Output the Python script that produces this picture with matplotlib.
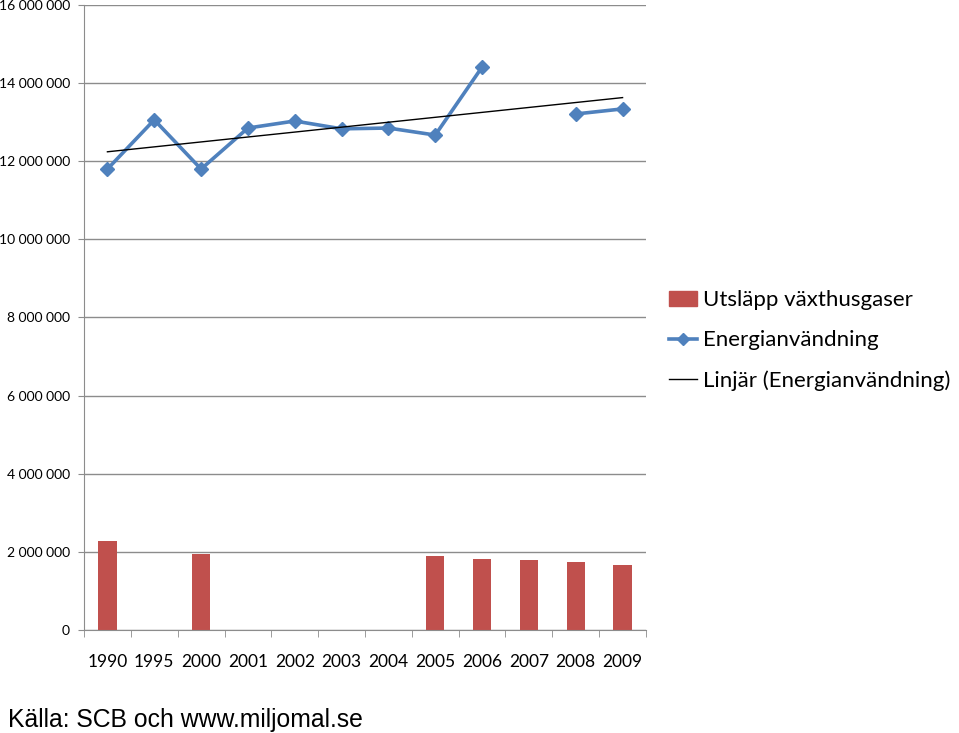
import matplotlib.pyplot as plt
from matplotlib.lines import Line2D
from matplotlib.patches import Patch
import numpy as np

years = ["1990", "1995", "2000", "2001", "2002", "2003", "2004",
         "2005", "2006", "2007", "2008", "2009"]
utslapp = [2280000, np.nan, 1950000, np.nan, np.nan, np.nan, np.nan,
           1890000, 1820000, 1790000, 1740000, 1660000]
energi = [11800000, 13060000, 11800000, 12850000, 13030000, 12830000,
          12850000, 12670000, 14410000, np.nan, 13210000, 13340000]
yticks = [0, 2000000, 4000000, 6000000, 8000000, 10000000, 12000000,
          14000000, 16000000]

bar_col = "#C0504D"
line_col = "#4F81BD"
grid_col = "#8C8C8C"

fig = plt.figure(figsize=(9.59, 7.33), dpi=100)
ax = fig.add_axes([0.0876, 0.1405, 0.586, 0.8527])

x = np.arange(len(years))
ax.bar(x, utslapp, width=0.39, color=bar_col, zorder=2)
ax.plot(x, energi, color=line_col, lw=2.6, marker="D", ms=7,
        zorder=3)

# linear trend (Excel-style) over the points that exist
e = np.array(energi)
ok = ~np.isnan(e)
k, m = np.polyfit(x[ok], e[ok], 1)
ax.plot(x, k * x + m, color="black", lw=1.0, zorder=4)

ax.set_xlim(-0.5, len(years) - 0.5)
ax.set_ylim(0, 16000000)
ax.set_yticks(yticks)
ax.set_yticklabels([f"{v:,}".replace(",", " ") for v in yticks],
                   fontfamily="Lato", fontsize=10)
ax.yaxis.grid(True, color=grid_col, lw=1.0)
ax.set_axisbelow(True)

ax.set_xticks(x)
ax.set_xticklabels(years, fontfamily="Lato", fontsize=12.5)
ax.tick_params(axis="x", length=0, pad=17)
ax.set_xticks(np.arange(-0.5, len(years)), minor=True)
ax.tick_params(axis="x", which="minor", length=5, color=grid_col)
ax.tick_params(axis="y", length=4, color=grid_col, pad=6)

for s in ["top", "right"]:
    ax.spines[s].set_visible(False)
for s in ["left", "bottom"]:
    ax.spines[s].set_color(grid_col)

handles = [Patch(color=bar_col),
           Line2D([], [], color=line_col, lw=2.6, marker="D", ms=6),
           Line2D([], [], color="black", lw=1.0)]
labels = ["Utsläpp växthusgaser", "Energianvändning",
          "Linjär (Energianvändning)"]
fig.legend(handles, labels, loc="upper left",
           bbox_to_anchor=(0.677, 0.631), frameon=False,
           prop={"family": "Lato", "size": 16}, handlelength=1.25,
           handletextpad=0.27, labelspacing=0.9)

fig.text(0.008, 0.008, "Källa: SCB och www.miljomal.se",
         fontfamily="Liberation Sans", fontsize=17.8)

fig.savefig("out.png")
